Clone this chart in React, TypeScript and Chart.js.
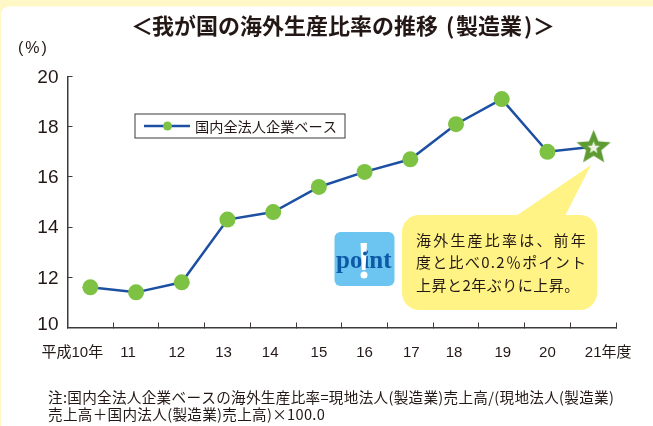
import React, { useEffect, useRef } from "react";
import { Chart, registerables } from "chart.js";

Chart.register(...registerables);

const categories = ["平成10年", "11", "12", "13", "14", "15", "16", "17", "18", "19", "20", "21年度"];
const seriesName = "国内全法人企業ベース";
const ratio = [11.6, 11.4, 11.8, 14.3, 14.6, 15.6, 16.2, 16.7, 18.1, 19.1, 17.0, 17.2];
const labelShift = [-18, -8, -5, -4, -3, 0, 0, 1, -2, 1, 0, 15];
const calloutLines = ["海外生産比率は、前年", "度と比べ0.2％ポイント", "上昇と2年ぶりに上昇。"];
const noteLines = [
  "注:国内全法人企業ベースの海外生産比率=現地法人(製造業)売上高/(現地法人(製造業)",
  "売上高＋国内法人(製造業)売上高)×100.0",
];
const titleParts = ["＜", "我が国の海外生産比率の推移", "(", "製造業", ")", "＞"];

const JP = '"Noto Sans CJK JP", "Liberation Sans", sans-serif';
const INK = "#231815";
const GREEN = "#7DC242";
const BLUE = "#1D50A2";

function starPath(ctx: CanvasRenderingContext2D, cx: number, cy: number, R: number, r: number) {
  ctx.beginPath();
  for (let i = 0; i < 10; i++) {
    const a = -Math.PI / 2 + (i * Math.PI) / 5;
    const q = i % 2 ? r : R;
    ctx.lineTo(cx + q * Math.cos(a), cy + q * Math.sin(a));
  }
  ctx.closePath();
}

function makeStar() {
  const c = document.createElement("canvas");
  c.width = 38;
  c.height = 38;
  const g = c.getContext("2d")!;
  g.fillStyle = "#5F9B33";
  starPath(g, 19.5, 20, 18, 8);
  g.fill();
  g.fillStyle = "#EEF3E6";
  starPath(g, 19.5, 20, 6.5, 2.8);
  g.fill();
  return c;
}

function text(
  ctx: CanvasRenderingContext2D,
  s: string,
  x: number,
  y: number,
  font: string,
  color = INK,
  spacing = "0px",
) {
  ctx.font = font;
  ctx.fillStyle = color;
  ctx.textAlign = "left";
  ctx.textBaseline = "middle";
  (ctx as any).letterSpacing = spacing;
  ctx.fillText(s, x, y);
  (ctx as any).letterSpacing = "0px";
}

const backdrop = {
  id: "backdrop",
  beforeDraw(chart: any) {
    const ctx: CanvasRenderingContext2D = chart.ctx;
    ctx.save();
    ctx.fillStyle = "#FFF8C6";
    ctx.fillRect(0, 0, 653, 426);
    ctx.fillStyle = "#FFFFFF";
    ctx.beginPath();
    ctx.roundRect(1, 6.5, 660, 430, 8);
    ctx.fill();
    ctx.restore();
    chart.scales.x.getLabelItems(chart.chartArea).forEach((item: any, i: number) => {
      if (!item.__moved) {
        item.options.translation[0] += labelShift[i] ?? 0;
        item.options.translation[1] -= 1;
        item.__moved = true;
      }
    });
    const yItems = chart.scales.y.getLabelItems(chart.chartArea);
    yItems.forEach((item: any) => {
      if (!item.__moved) {
        if (item.label === "10") item.options.translation[1] -= 3;
        else item.options.translation[1] += 1;
        item.__moved = true;
      }
    });
  },
  beforeDatasetsDraw(chart: any) {
    const ctx: CanvasRenderingContext2D = chart.ctx;
    ctx.save();
    // title and unit
    const titleX = [131, 152, 446, 456, 524, 533];
    const titleFont = `700 22px ${JP}`;
    titleParts.forEach((p, i) => text(ctx, p, titleX[i], 26, titleFont));
    text(ctx, "(%)", 18, 49, `400 16px "Liberation Sans", sans-serif`, INK, "2px");

    // legend
    ctx.fillStyle = "#FFFFFF";
    ctx.strokeStyle = "#3E3A39";
    ctx.lineWidth = 1;
    ctx.fillRect(135, 114, 210, 24);
    ctx.strokeRect(135, 114, 210, 24);
    ctx.strokeStyle = BLUE;
    ctx.lineWidth = 2.5;
    ctx.beginPath();
    ctx.moveTo(144, 126);
    ctx.lineTo(190, 126);
    ctx.stroke();
    ctx.fillStyle = GREEN;
    ctx.beginPath();
    ctx.arc(167.5, 126, 4.5, 0, Math.PI * 2);
    ctx.fill();
    text(ctx, seriesName, 195, 126.5, `400 14.2px ${JP}`);

    // callout
    ctx.fillStyle = "#FFF385";
    ctx.beginPath();
    ctx.moveTo(516, 216);
    ctx.lineTo(591, 165);
    ctx.lineTo(565, 216);
    ctx.closePath();
    ctx.fill();
    ctx.beginPath();
    ctx.roundRect(402, 215, 195, 95, 17);
    ctx.fill();
    const ys = [240, 262, 285];
    const sp = ["2.2px", "1.3px", "0.5px"];
    calloutLines.forEach((l, i) => text(ctx, l, 416, ys[i], `400 15px ${JP}`, INK, sp[i]));

    // point badge
    ctx.fillStyle = "#6CC5F0";
    ctx.beginPath();
    ctx.roundRect(334.5, 232, 60, 54, 6);
    ctx.fill();
    ctx.fillStyle = "#0C5AA6";
    ctx.font = `bold 25px "Liberation Serif", serif`;
    ctx.textAlign = "left";
    ctx.textBaseline = "alphabetic";
    ctx.fillText("point", 336, 268);
    ctx.fillStyle = "#FFFFFF";
    ctx.beginPath();
    ctx.moveTo(360.5, 243);
    ctx.lineTo(367, 243);
    ctx.lineTo(365.5, 270);
    ctx.lineTo(362, 270);
    ctx.closePath();
    ctx.fill();
    ctx.beginPath();
    ctx.arc(364, 275, 3.5, 0, Math.PI * 2);
    ctx.fill();
    ctx.fillStyle = "#0C5AA6";
    ctx.beginPath();
    ctx.arc(365, 253.5, 2, 0, Math.PI * 2);
    ctx.fill();

    // notes
    text(ctx, noteLines[0], 48, 397, `400 14.6px ${JP}`, INK, "0.3px");
    text(ctx, noteLines[1], 48, 414, `400 14.6px ${JP}`, INK, "0.3px");
    ctx.restore();
  },
};

export default function App() {
  const ref = useRef<HTMLCanvasElement>(null);
  useEffect(() => {
    const star = makeStar();
    const last = ratio.length - 1;
    const chart = new Chart(ref.current!, {
      type: "line",
      data: {
        labels: categories,
        datasets: [
          {
            label: seriesName,
            data: ratio,
            borderColor: BLUE,
            borderWidth: 2.5,
            tension: 0,
            pointBackgroundColor: GREEN,
            pointBorderColor: GREEN,
            pointBorderWidth: 0,
            pointRadius: ratio.map(() => 8),
            pointStyle: ratio.map((_, i) => (i === last ? star : "circle")) as any,
          },
        ],
      },
      options: {
        animation: false,
        responsive: false,
        events: [],
        layout: { padding: { left: 0, right: 37, top: 76.5, bottom: 0 } },
        plugins: { legend: { display: false }, title: { display: false }, tooltip: { enabled: false } },
        scales: {
          x: {
            type: "category",
            offset: true,
            afterFit: (s: any) => {
              s.height = 98.5;
            },
            grid: {
              offset: true,
              drawOnChartArea: false,
              tickLength: -5,
              color: "#3E3A39",
              lineWidth: 1,
            },
            border: { color: "#3E3A39", width: 1.5 },
            ticks: {
              color: INK,
              autoSkip: false,
              maxRotation: 0,
              padding: 22,
              font: { family: '"Liberation Sans", "Noto Sans CJK JP", sans-serif', size: 15 },
            },
          },
          y: {
            min: 10,
            max: 20,
            afterFit: (s: any) => {
              s.width = 67.5;
            },
            grid: {
              drawOnChartArea: false,
              tickLength: -5,
              color: "#3E3A39",
              lineWidth: 1,
            },
            border: { color: "#3E3A39", width: 1.5 },
            ticks: {
              stepSize: 2,
              color: INK,
              padding: 14,
              font: { family: '"Liberation Sans", sans-serif', size: 19 },
            },
          },
        },
      },
      plugins: [backdrop],
    } as any);
    return () => chart.destroy();
  }, []);
  return (
    <div style={{ position: "absolute", left: 0, top: 0, width: 653, height: 426 }}>
      <canvas ref={ref} width={653} height={426} style={{ display: "block" }} />
    </div>
  );
}
